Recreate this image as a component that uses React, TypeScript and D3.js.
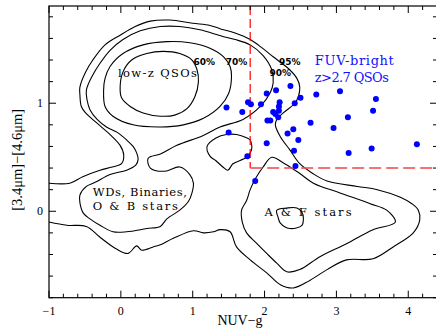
import React, { useEffect, useRef } from 'react';
import * as d3 from 'd3';

// FUV-bright z>2.7 QSOs: [NUV-g, W1-W2]
const qsoPoints: [number, number][] = [
  [1.47, 0.96], [1.69, 0.92], [1.77, 1.01], [1.81, 0.99], [1.95, 0.99],
  [2.03, 1.09], [2.16, 1.12], [2.36, 1.16], [2.21, 1.01], [2.2, 0.97],
  [2.2, 0.93], [2.12, 0.92], [2.15, 0.9], [2.19, 0.87], [2.04, 0.84],
  [2.08, 0.84], [2.42, 1.0], [2.5, 1.05], [2.72, 1.08], [3.05, 1.11],
  [2.64, 0.82], [2.4, 0.76], [2.32, 0.72], [2.47, 0.66], [1.5, 0.73],
  [2.03, 0.63], [2.41, 0.56], [1.76, 0.51], [2.43, 0.42], [1.87, 0.28],
  [2.96, 0.77], [3.55, 1.04], [3.51, 0.93], [3.16, 0.87], [3.49, 0.58],
  [3.17, 0.54], [4.12, 0.62],
];

// density contours (closed loops)
const contour60: [number, number][] = [
  [-0.01, 1.15], [0.01, 1.05], [0.13, 0.97], [0.31, 0.91], [0.55, 0.88], [0.75, 0.89],
  [0.92, 0.95], [1.03, 1.06], [1.08, 1.2], [1.06, 1.31], [0.99, 1.4], [0.82, 1.46],
  [0.59, 1.48], [0.36, 1.46], [0.15, 1.4], [0.03, 1.29],
];
const contour70: [number, number][] = [
  [-0.24, 1.12], [-0.22, 0.97], [-0.11, 0.88], [0.17, 0.8], [0.55, 0.78], [0.87, 0.8],
  [1.15, 0.86], [1.38, 0.97], [1.5, 1.09], [1.54, 1.25], [1.52, 1.34], [1.43, 1.43],
  [1.24, 1.51], [0.96, 1.56], [0.64, 1.57], [0.31, 1.54], [0.03, 1.46], [-0.15, 1.34],
  [-0.22, 1.23],
];
const contour90: [number, number][] = [
  [0.38, 0.49], [0.55, 0.53], [0.78, 0.61], [1.14, 0.7], [1.38, 0.78], [1.7, 0.85],
  [1.94, 0.97], [2.08, 1.1], [2.12, 1.19], [2.1, 1.31], [1.98, 1.44], [1.8, 1.54],
  [1.59, 1.59], [1.41, 1.62], [1.1, 1.68], [0.82, 1.71], [0.55, 1.71], [0.27, 1.67],
  [0.03, 1.59], [-0.15, 1.49], [-0.29, 1.37], [-0.4, 1.25], [-0.48, 1.12], [-0.47, 1.03],
  [-0.43, 0.94], [-0.33, 0.85], [-0.2, 0.78], [-0.05, 0.73], [0.08, 0.66], [0.17, 0.6],
  [0.22, 0.54], [0.24, 0.48], [0.21, 0.43], [0.08, 0.38], [-0.15, 0.34], [-0.35, 0.27],
  [-0.48, 0.23], [-0.57, 0.15], [-0.57, 0.08], [-0.52, -0.02], [-0.43, -0.07],
  [-0.29, -0.13], [-0.11, -0.19], [0.08, -0.19], [0.36, -0.16], [0.55, -0.14],
  [0.64, -0.07], [0.82, 0.01], [0.94, 0.09], [0.99, 0.17], [1.01, 0.26], [0.96, 0.34],
  [0.82, 0.41], [0.61, 0.37], [0.41, 0.4],
];
const contourBlob: [number, number][] = [
  [1.2, 0.6], [1.24, 0.51], [1.32, 0.47], [1.42, 0.41], [1.49, 0.38], [1.56, 0.44],
  [1.75, 0.5], [1.82, 0.57], [1.8, 0.66], [1.75, 0.68], [1.61, 0.71], [1.47, 0.71],
  [1.33, 0.68],
];
const contourAF: [number, number][] = [
  [2.1, 0.5], [1.98, 0.41], [1.88, 0.31], [1.8, 0.2], [1.75, 0.1], [1.68, 0.01],
  [1.69, -0.1], [1.75, -0.2], [1.88, -0.29], [2.03, -0.39], [2.17, -0.48], [2.31, -0.56],
  [2.49, -0.54], [2.77, -0.42], [3.14, -0.3], [3.51, -0.17], [3.82, -0.1], [3.7, 0.01],
  [3.47, 0.07], [3.05, 0.17], [2.68, 0.26], [2.49, 0.35], [2.28, 0.44],
];
const contourAFcore: [number, number][] = [
  [2.17, 0.01], [2.19, -0.06], [2.22, -0.11], [2.35, -0.16], [2.52, -0.13], [2.54, -0.06],
  [2.52, -0.01], [2.45, 0.03], [2.31, 0.03],
];
// outermost (95%) contour, open at the left edge
const contour95: [number, number][] = [
  [-1.0, 0.26], [-0.71, 0.26], [-0.53, 0.32], [-0.29, 0.38], [-0.12, 0.41], [0.01, 0.44],
  [0.04, 0.52], [-0.01, 0.61], [-0.15, 0.71], [-0.34, 0.82], [-0.49, 0.91], [-0.55, 0.97],
  [-0.57, 1.08], [-0.57, 1.15], [-0.49, 1.29], [-0.39, 1.4], [-0.22, 1.54], [-0.01, 1.63],
  [0.2, 1.71], [0.41, 1.76], [0.68, 1.77], [1.0, 1.74], [1.24, 1.72], [1.38, 1.69],
  [1.59, 1.65], [1.8, 1.59], [1.97, 1.51], [2.12, 1.43], [2.24, 1.37], [2.35, 1.31],
  [2.45, 1.23], [2.49, 1.15], [2.47, 1.06], [2.42, 1.0], [2.26, 0.91], [2.17, 0.85],
  [2.15, 0.8], [2.22, 0.69], [2.35, 0.57], [2.49, 0.44], [2.67, 0.35], [2.87, 0.28],
  [3.29, 0.23], [3.57, 0.2], [3.89, 0.13], [4.05, 0.07], [4.14, 0.01], [4.16, -0.08],
  [4.07, -0.2], [3.79, -0.33], [3.51, -0.44], [3.14, -0.45], [2.87, -0.54], [2.63, -0.64],
  [2.4, -0.71], [2.22, -0.68], [2.03, -0.57], [1.8, -0.45], [1.61, -0.33], [1.52, -0.19],
  [1.38, -0.17], [1.29, -0.19], [1.15, -0.2], [1.01, -0.18], [0.73, -0.25], [0.55, -0.31],
  [0.45, -0.33], [0.29, -0.36], [0.22, -0.32], [0.1, -0.39], [-0.06, -0.35], [-0.29, -0.24],
  [-0.48, -0.14], [-0.75, -0.13], [-1.0, -0.1],
];

const closedContours = [contour60, contour70, contour90, contourBlob, contourAF, contourAFcore];

// contour level labels [text, x, y]
const levelLabels: [string, number, number][] = [
  ['60%', 1.16, 1.35], ['70%', 1.61, 1.35], ['95%', 2.35, 1.35], ['90%', 2.22, 1.25],
];
// region annotations [text, x, y, width]
const regionLabels: [string, number, number, number][] = [
  ['low-z QSOs', -0.04, 1.24, 79],
  ['WDs, Binaries,', -0.39, 0.14, 94],
  ['O & B stars', -0.39, 0.01, 85],
  ['A & F stars', 2.0, -0.04, 87],
];
const qsoLabels: [string, number, number, number][] = [
  ['FUV-bright', 2.7, 1.35, 79],
  ['z>2.7 QSOs', 2.7, 1.2, 74],
];

const xTicks = [-1, 0, 1, 2, 3, 4];
const yTicks = [0, 1];
const cutNUV = 1.8;
const cutW = 0.4;

const W = 436;
const H = 329;
const margin = { left: 49, right: -1, top: 6, bottom: 31.3 };

export default function App() {
  const ref = useRef<SVGSVGElement>(null);

  useEffect(() => {
    const svg = d3.select(ref.current);
    svg.selectAll('*').remove();

    const x = d3.scaleLinear().domain([-1, 4.4]).range([margin.left, W - margin.right]);
    const y = d3.scaleLinear().domain([-0.8, 1.9]).range([H - margin.bottom, margin.top]);
    const [x0, x1] = x.range();
    const [y0, y1] = y.range();

    const g = svg.append('g');

    // contours
    const closedLine = d3.line<[number, number]>()
      .x(d => x(d[0])).y(d => y(d[1]))
      .curve(d3.curveCatmullRomClosed.alpha(0.5));
    const openLine = d3.line<[number, number]>()
      .x(d => x(d[0])).y(d => y(d[1]))
      .curve(d3.curveCatmullRom.alpha(0.5));

    g.selectAll('path.c')
      .data(closedContours)
      .enter().append('path')
      .attr('d', d => closedLine(d))
      .attr('fill', 'none').attr('stroke', '#000').attr('stroke-width', 1.1);
    g.append('path')
      .attr('d', openLine(contour95))
      .attr('fill', 'none').attr('stroke', '#000').attr('stroke-width', 1.1);

    // colour cuts
    g.append('line')
      .attr('x1', x(cutNUV)).attr('x2', x(cutNUV)).attr('y1', y1).attr('y2', y(cutW))
      .attr('stroke', '#ff0000').attr('stroke-width', 1.2).attr('stroke-dasharray', '9,4');
    g.append('line')
      .attr('x1', x(cutNUV)).attr('x2', x1).attr('y1', y(cutW)).attr('y2', y(cutW))
      .attr('stroke', '#f05050').attr('stroke-opacity', 0.8).attr('stroke-width', 2)
      .attr('stroke-dasharray', '12,5');

    // points
    g.selectAll('circle')
      .data(qsoPoints)
      .enter().append('circle')
      .attr('cx', d => x(d[0])).attr('cy', d => y(d[1])).attr('r', 3)
      .attr('fill', '#0000ff');

    // labels
    g.selectAll('text.lvl')
      .data(levelLabels)
      .enter().append('text')
      .attr('x', d => x(d[1])).attr('y', d => y(d[2]))
      .attr('text-anchor', 'middle')
      .style('font-family', 'DejaVu Sans').style('font-size', '9px').style('font-weight', 'bold')
      .text(d => d[0]);

    g.selectAll('text.reg')
      .data(regionLabels)
      .enter().append('text')
      .attr('x', d => x(d[1])).attr('y', d => y(d[2]))
      .attr('textLength', d => d[3]).attr('lengthAdjust', 'spacing')
      .style('font-family', 'DejaVu Serif').style('font-size', '11.5px')
      .text(d => d[0]);

    g.selectAll('text.qso')
      .data(qsoLabels)
      .enter().append('text')
      .attr('x', d => x(d[1])).attr('y', d => y(d[2]))
      .attr('textLength', d => d[3]).attr('lengthAdjust', 'spacing')
      .attr('fill', '#1010ff')
      .style('font-family', 'DejaVu Serif').style('font-size', '13px')
      .text(d => d[0]);

    // frame and ticks
    g.append('rect')
      .attr('x', x0).attr('y', y1).attr('width', x1 - x0).attr('height', y0 - y1)
      .attr('fill', 'none').attr('stroke', '#000').attr('stroke-width', 1.2);

    const minorX = d3.range(-1, 4.41, 0.2);
    const minorY = d3.range(-0.8, 1.91, 0.2);
    const isMajor = (v: number) => Math.abs(v - Math.round(v)) < 1e-6;

    minorX.forEach(v => {
      const len = isMajor(v) ? 7 : 4;
      g.append('line').attr('x1', x(v)).attr('x2', x(v)).attr('y1', y0).attr('y2', y0 - len)
        .attr('stroke', '#000');
      g.append('line').attr('x1', x(v)).attr('x2', x(v)).attr('y1', y1).attr('y2', y1 + len)
        .attr('stroke', '#000');
    });
    minorY.forEach(v => {
      const len = isMajor(v) ? 7 : 4;
      g.append('line').attr('x1', x0).attr('x2', x0 + len).attr('y1', y(v)).attr('y2', y(v))
        .attr('stroke', '#000');
      g.append('line').attr('x1', x1).attr('x2', x1 - len).attr('y1', y(v)).attr('y2', y(v))
        .attr('stroke', '#000');
    });

    g.selectAll('text.xt')
      .data(xTicks)
      .enter().append('text')
      .attr('x', d => x(d)).attr('y', y0 + 17)
      .attr('text-anchor', 'middle')
      .style('font-family', 'Liberation Serif').style('font-size', '12px')
      .text(d => (d < 0 ? '\u2212' + Math.abs(d) : String(d)));

    g.selectAll('text.yt')
      .data(yTicks)
      .enter().append('text')
      .attr('x', x0 - 6).attr('y', d => y(d) + 4)
      .attr('text-anchor', 'end')
      .style('font-family', 'Liberation Serif').style('font-size', '12px')
      .text(d => String(d));

    g.append('text')
      .attr('x', 240).attr('y', 325)
      .attr('text-anchor', 'middle')
      .style('font-family', 'Liberation Serif').style('font-size', '14px')
      .text('NUV\u2212g');

    g.append('text')
      .attr('transform', `translate(22, ${(y0 + y1) / 2 + 8}) rotate(-90)`)
      .attr('text-anchor', 'middle')
      .style('font-family', 'Liberation Serif').style('font-size', '14.5px')
      .text('[3.4\u03bcm]\u2212[4.6\u03bcm]');
  }, []);

  return (
    <svg
      ref={ref}
      width={W}
      height={H}
      style={{ position: 'absolute', left: 0, top: 0, background: '#fff' }}
    />
  );
}
